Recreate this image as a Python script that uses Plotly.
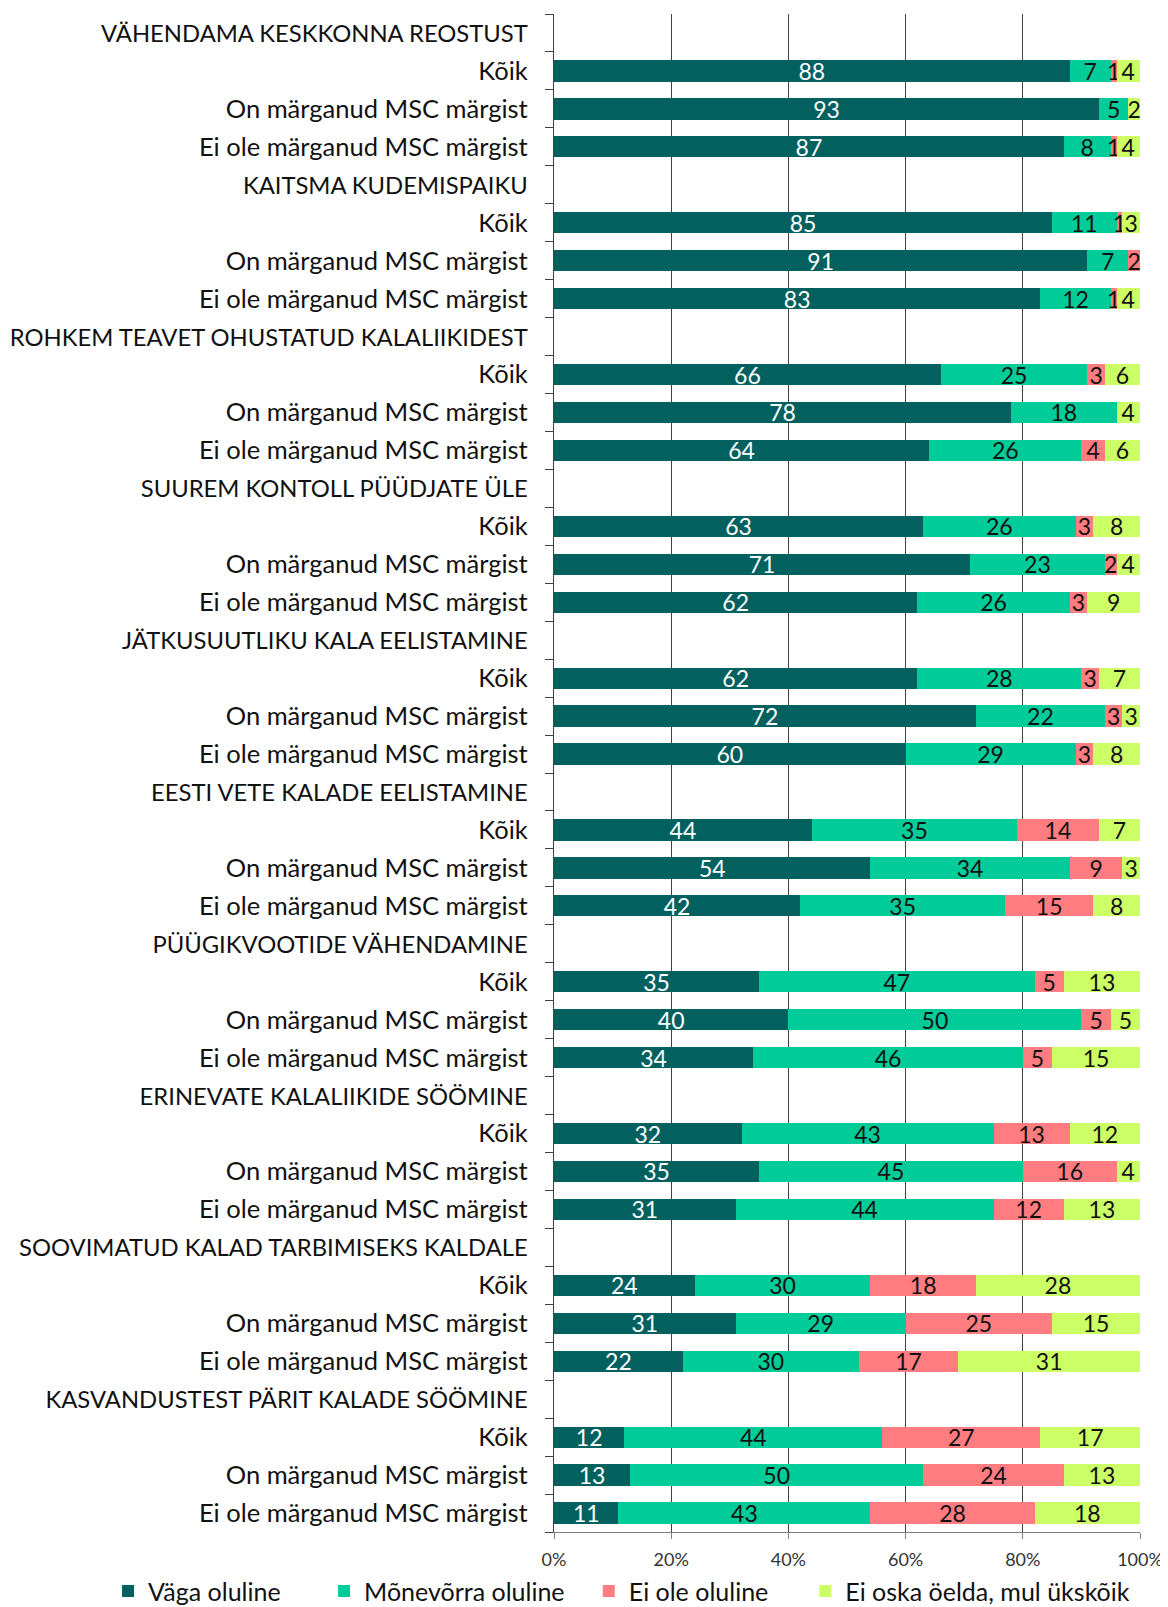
import plotly.graph_objects as go

groups = [
    "VÄHENDAMA KESKKONNA REOSTUST",
    "KAITSMA KUDEMISPAIKU",
    "ROHKEM TEAVET OHUSTATUD KALALIIKIDEST",
    "SUUREM KONTOLL PÜÜDJATE ÜLE",
    "JÄTKUSUUTLIKU KALA EELISTAMINE",
    "EESTI VETE KALADE EELISTAMINE",
    "PÜÜGIKVOOTIDE VÄHENDAMINE",
    "ERINEVATE KALALIIKIDE SÖÖMINE",
    "SOOVIMATUD KALAD TARBIMISEKS KALDALE",
    "KASVANDUSTEST PÄRIT KALADE SÖÖMINE",
]
subgroups = ["Kõik", "On märganud MSC märgist", "Ei ole märganud MSC märgist"]

series_names = ["Väga oluline", "Mõnevõrra oluline", "Ei ole oluline", "Ei oska öelda, mul ükskõik"]

# values per group: [Kõik, On, Ei] for each series
vaga_oluline = [88, 93, 87, 85, 91, 83, 66, 78, 64, 63, 71, 62, 62, 72, 60,
                44, 54, 42, 35, 40, 34, 32, 35, 31, 24, 31, 22, 12, 13, 11]
monevorra_oluline = [7, 5, 8, 11, 7, 12, 25, 18, 26, 26, 23, 26, 28, 22, 29,
                     35, 34, 35, 47, 50, 46, 43, 45, 44, 30, 29, 30, 44, 50, 43]
ei_ole_oluline = [1, 0, 1, 1, 2, 1, 3, 0, 4, 3, 2, 3, 3, 3, 3,
                  14, 9, 15, 5, 5, 5, 13, 16, 12, 18, 25, 17, 27, 24, 28]
ei_oska = [4, 2, 4, 3, 0, 4, 6, 4, 6, 8, 4, 9, 7, 3, 8,
           7, 3, 8, 13, 5, 15, 12, 4, 13, 28, 15, 31, 17, 13, 18]

colors = ["#02605F", "#00CC99", "#FF7C80", "#CCFF66"]
text_colors = ["white", "#111111", "#111111", "#111111"]
x_ticks = [0, 20, 40, 60, 80, 100]
x_ticktext = ["0%", "20%", "40%", "60%", "80%", "100%"]

# build row structure
row_labels = []
bar_rows = []
r = 0
for g in groups:
    row_labels.append('<span style="font-size:23.8px">' + g + '</span>')
    r += 1
    for s in subgroups:
        row_labels.append(s)
        bar_rows.append(r)
        r += 1
n_rows = len(row_labels)

# extra legend spacing (non-breaking spaces) per entry
legend_pad = [6, 3, 5, 0]

FONT = "Lato"
FS = 25.5
# page body has an 8px margin: figure is shrunk so plot area lands where the reference has it
W, H = 1160, 1599
fig = go.Figure()
for name, vals, col, tcol, pad in zip(series_names,
                                      [vaga_oluline, monevorra_oluline, ei_ole_oluline, ei_oska],
                                      colors, text_colors, legend_pad):
    fig.add_trace(go.Bar(
        x=vals, y=bar_rows, orientation="h", name=name + "\u00a0" * pad,
        marker=dict(color=col, line=dict(width=0)),
        text=[str(v) if v > 0 else "" for v in vals],
        textposition="inside", insidetextanchor="middle", textangle=0,
        textfont=dict(color=tcol, size=23, family=FONT),
        hoverinfo="x+name",
    ))

fig.update_layout(
    barmode="stack", bargap=0.44,
    width=W, height=H,
    margin=dict(l=546, r=28, t=6, b=75, autoexpand=False),
    plot_bgcolor="white", paper_bgcolor="white",
    font=dict(family=FONT, size=FS, color="#111111"),
    uniformtext=dict(minsize=23, mode="show"),
    legend=dict(orientation="h", x=-0.761, xanchor="left", y=-0.039, yanchor="middle",
                font=dict(size=25, color="#111111"), traceorder="normal",
                itemwidth=30),
    showlegend=True,
)
fig.update_xaxes(
    range=[0, 100], tickvals=x_ticks, ticktext=x_ticktext,
    showgrid=True, gridcolor="#404040", gridwidth=1.3,
    showline=True, linecolor="#808080", linewidth=1.3,
    ticks="outside", ticklen=6, tickcolor="#808080", ticklabelstandoff=5,
    tickfont=dict(size=18, color="#333333"), zeroline=False,
    mirror=False,
)
fig.update_yaxes(
    range=[n_rows - 0.5, -0.5], tickvals=list(range(n_rows)), ticktext=row_labels,
    showgrid=False, showline=True, linecolor="#404040", linewidth=1.3,
    ticks="", ticklen=0, ticklabelstandoff=20, tickfont=dict(size=FS, color="#111111"),
    minor=dict(ticks="outside", tick0=-0.5, dtick=1, ticklen=8, tickcolor="#404040", showgrid=False),
    zeroline=False,
)
fig.write_html("out.html")
